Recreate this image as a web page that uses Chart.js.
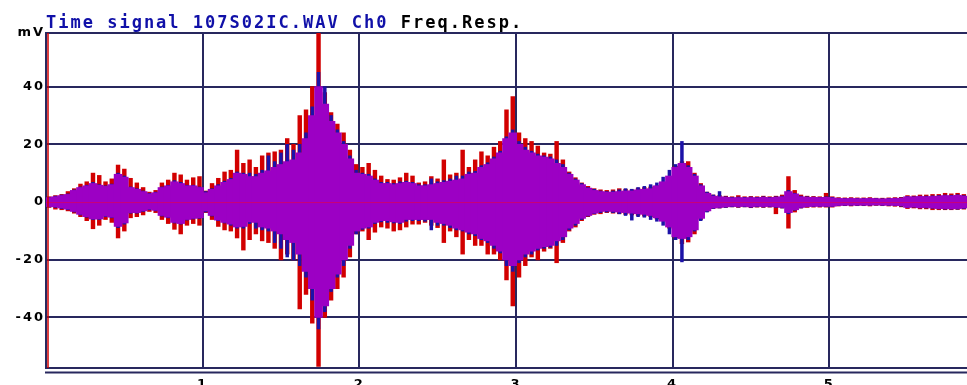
<!DOCTYPE html>
<html>
<head>
<meta charset="utf-8">
<title>Time signal 107S02IC.WAV Ch0</title>
<script src="https://cdn.jsdelivr.net/npm/chart.js@4.4.1/dist/chart.umd.min.js"></script>
<style>
  html, body { margin: 0; padding: 0; background: #ffffff; }
  #wrap { position: relative; width: 967px; height: 385px; overflow: hidden; }
  #c { position: absolute; left: 0; top: 0; }
  #title {
    position: absolute; left: 46px; top: 14px;
    font: bold 17px/17px "DejaVu Sans Mono", monospace;
    letter-spacing: 2px; color: #000000; white-space: pre;
  }
  #title .src { color: #1010a8; }
</style>
</head>
<body>
<div id="wrap">
  <canvas id="c" width="967" height="385"></canvas>
  <div id="title"><span class="src">Time signal 107S02IC.WAV Ch0</span> Freq.Resp.</div>
</div>
<script>
// Peak envelope of the recording, one column per 40 ms (values in mV).
const SAMPLE_STEP = 0.04;

// Channel trace drawn in red: column maxima / minima
const redHigh = [
  1.8,2.2,2.6,3.6,4.6,6.2,7.0,10.0,9.2,7.0,
  8.0,12.8,11.4,8.2,6.6,5.0,3.4,4.0,6.6,7.6,
  10.0,9.4,7.6,8.4,8.8,3.8,6.4,8.2,10.4,11.0,
  18.0,13.4,14.6,12.0,16.0,17.0,17.4,18.0,22.0,20.0,
  30.0,32.0,40.0,62.0,38.0,31.0,27.0,24.0,18.0,13.0,
  12.0,13.4,11.0,9.0,7.8,7.6,8.4,10.0,9.0,6.6,
  7.0,8.8,8.0,14.6,9.4,10.0,18.0,12.0,14.6,17.4,
  16.0,19.0,21.0,32.0,36.6,24.0,22.0,21.0,19.4,17.0,
  16.6,21.0,14.6,10.4,8.4,6.6,5.4,4.6,4.2,4.0,
  4.2,4.6,4.4,4.2,4.8,5.0,5.2,5.6,6.8,8.4,
  12.4,14.0,14.0,10.0,6.4,3.4,2.4,2.2,2.0,1.8,
  2.2,1.8,1.9,1.8,2.0,1.8,2.0,2.4,8.8,4.0,
  2.4,2.0,1.9,1.8,3.0,1.8,1.5,1.4,1.5,1.4,
  1.4,1.5,1.3,1.3,1.4,1.5,1.6,2.2,2.1,2.4,
  2.4,2.6,2.6,3.0,2.8,3.0,2.6
];
const redLow = [
  -1.8,-2.4,-2.6,-3.0,-3.8,-5.0,-6.4,-9.2,-8.0,-6.0,
  -7.0,-12.4,-10.0,-5.4,-5.0,-4.4,-3.2,-3.6,-6.0,-7.4,
  -9.4,-11.0,-8.0,-7.4,-8.0,-3.6,-6.0,-8.4,-9.6,-10.0,
  -12.4,-16.6,-13.0,-11.0,-13.4,-14.0,-16.0,-20.0,-18.0,-20.0,
  -37.0,-32.0,-42.0,-57.0,-40.0,-34.0,-30.0,-26.0,-19.0,-11.0,
  -10.0,-13.0,-10.4,-8.6,-9.0,-10.0,-9.6,-8.6,-7.6,-7.6,
  -7.0,-8.0,-8.8,-14.0,-10.0,-12.0,-18.0,-13.0,-15.0,-15.0,
  -18.0,-18.0,-20.0,-27.0,-36.0,-26.0,-22.0,-19.0,-20.0,-17.0,
  -16.0,-21.0,-14.0,-10.0,-8.6,-6.4,-5.0,-4.2,-4.0,-3.6,
  -3.8,-4.0,-4.2,-4.4,-4.6,-4.8,-5.0,-5.8,-6.4,-9.0,
  -12.4,-14.4,-13.8,-11.0,-6.0,-3.2,-2.2,-2.0,-1.8,-1.6,
  -1.8,-1.6,-1.9,-1.7,-1.8,-1.7,-4.0,-2.0,-9.0,-3.4,
  -2.0,-1.8,-1.7,-1.7,-1.7,-1.7,-1.3,-1.2,-1.3,-1.2,
  -1.2,-1.3,-1.1,-1.2,-1.3,-1.4,-1.6,-2.2,-2.0,-2.3,
  -2.3,-2.6,-2.6,-2.6,-2.6,-2.5,-2.4
];

// Second trace drawn in blue
const blueHigh = [
  1.6,2.0,2.4,2.8,4.2,5.2,5.8,6.8,6.0,5.6,
  6.2,10.0,9.0,5.2,4.6,3.8,3.0,3.4,5.2,5.8,
  7.4,6.8,5.8,5.8,5.2,3.6,4.6,6.0,7.2,8.2,
  10.4,10.0,10.0,9.6,11.0,16.0,14.0,17.0,20.0,18.0,
  20.0,24.0,33.0,45.0,40.0,30.0,25.0,21.0,16.0,11.0,
  10.0,9.6,8.0,6.8,6.8,6.4,7.0,7.2,6.8,6.0,
  6.0,8.0,7.0,7.4,8.0,9.0,9.0,10.4,10.6,12.6,
  13.6,15.6,17.6,22.6,25.0,21.0,19.0,17.6,16.6,16.0,
  15.6,14.6,13.0,10.0,8.0,6.4,5.0,4.4,3.8,3.6,
  3.8,4.2,4.6,4.4,5.0,5.4,6.0,6.6,8.6,11.0,
  13.0,21.0,12.6,9.6,6.0,3.4,2.4,3.6,1.8,1.6,
  1.7,1.6,1.7,1.6,1.8,1.6,1.8,2.0,4.0,3.0,
  2.0,1.8,1.7,1.6,1.8,1.6,1.3,1.2,1.3,1.2,
  1.2,1.3,1.2,1.1,1.2,1.3,1.4,1.9,1.8,2.0,
  2.0,2.1,2.2,2.4,2.3,2.5,2.2
];
const blueLow = [
  -1.6,-1.8,-2.2,-2.6,-3.4,-4.4,-5.2,-6.0,-6.0,-5.0,
  -5.4,-8.8,-7.6,-3.8,-3.8,-3.2,-2.6,-3.0,-4.8,-5.4,
  -7.2,-7.6,-6.2,-5.8,-5.6,-3.4,-4.8,-6.4,-7.2,-8.0,
  -9.0,-9.0,-7.4,-9.0,-9.6,-10.0,-14.0,-16.0,-19.0,-20.0,
  -22.0,-26.0,-34.0,-44.0,-38.0,-31.0,-26.0,-22.0,-16.0,-11.0,
  -9.4,-9.0,-7.4,-6.8,-7.0,-7.2,-7.4,-6.6,-6.4,-6.4,
  -6.6,-9.6,-8.0,-8.0,-8.8,-9.6,-10.0,-11.0,-11.6,-13.0,
  -14.0,-16.0,-17.6,-22.0,-24.0,-21.0,-19.0,-18.0,-16.6,-16.0,
  -15.6,-15.0,-13.0,-9.6,-8.0,-6.0,-4.8,-4.0,-3.6,-3.4,
  -3.6,-4.0,-4.6,-6.2,-5.0,-5.2,-6.0,-6.6,-8.0,-11.0,
  -13.0,-20.7,-13.0,-10.0,-6.4,-3.4,-2.2,-2.0,-1.8,-1.6,
  -1.7,-1.6,-1.8,-1.6,-1.7,-1.6,-1.8,-2.0,-4.0,-2.8,
  -2.0,-1.6,-1.5,-1.5,-1.5,-1.5,-1.2,-1.1,-1.1,-1.1,
  -1.1,-1.1,-1.0,-1.1,-1.1,-1.2,-1.4,-1.9,-1.7,-2.0,
  -2.0,-2.1,-2.3,-2.4,-2.4,-2.4,-2.2
];

// Common part of both traces, drawn in purple on top
const purpleHigh = [
  1.5,1.8,2.2,2.6,4.0,5.0,5.6,6.4,5.8,5.4,
  6.0,9.6,8.6,5.0,4.4,3.6,2.8,3.2,5.0,5.6,
  7.0,6.4,5.6,5.6,5.0,3.2,4.4,5.6,6.8,7.8,
  10.0,9.6,8.8,8.8,10.0,10.8,12.0,13.0,14.0,14.6,
  17.0,22.0,30.0,40.0,34.0,28.0,24.0,20.0,15.0,10.0,
  9.6,9.0,7.6,6.4,6.4,6.0,6.4,6.8,6.4,5.6,
  5.6,6.0,6.4,6.8,7.2,7.6,8.0,9.6,10.0,12.0,
  13.0,15.0,17.0,22.0,24.0,20.0,18.0,17.0,16.0,15.6,
  15.0,13.4,12.0,9.6,7.6,6.0,4.8,4.0,3.6,3.4,
  3.4,3.6,3.8,3.8,4.2,4.4,4.6,5.6,7.0,9.0,
  12.0,13.4,12.0,9.0,5.6,3.0,2.0,1.8,1.6,1.4,
  1.5,1.4,1.5,1.4,1.6,1.4,1.6,1.8,3.6,2.8,
  1.8,1.6,1.6,1.5,1.6,1.4,1.2,1.1,1.2,1.1,
  1.1,1.2,1.1,1.0,1.1,1.2,1.3,1.8,1.7,1.9,
  1.8,1.9,2.0,2.2,2.1,2.3,2.0
];
const purpleLow = [
  -1.5,-1.6,-2.0,-2.4,-3.2,-4.2,-5.0,-5.8,-5.8,-4.8,
  -5.2,-8.4,-7.2,-3.6,-3.6,-3.0,-2.4,-2.8,-4.6,-5.2,
  -7.0,-7.4,-6.0,-5.6,-5.4,-3.0,-4.6,-6.2,-7.0,-7.6,
  -8.6,-8.4,-6.8,-7.0,-8.6,-9.0,-10.0,-11.0,-13.0,-14.0,
  -18.0,-24.0,-30.0,-40.0,-36.0,-30.0,-25.0,-20.0,-15.0,-10.0,
  -9.0,-8.6,-7.0,-6.4,-6.4,-6.8,-7.0,-6.0,-6.0,-6.0,
  -6.0,-6.0,-7.0,-7.4,-8.0,-9.0,-9.6,-10.4,-11.0,-12.6,
  -13.4,-15.0,-17.0,-20.0,-22.0,-20.0,-18.0,-17.0,-16.0,-15.4,
  -15.0,-13.4,-12.0,-9.0,-7.4,-5.6,-4.6,-3.8,-3.2,-3.0,
  -3.2,-3.4,-3.6,-3.8,-4.0,-4.2,-4.6,-5.4,-6.6,-8.6,
  -12.0,-12.6,-12.0,-9.6,-5.6,-3.0,-2.0,-1.8,-1.6,-1.4,
  -1.5,-1.4,-1.6,-1.4,-1.5,-1.4,-1.6,-1.8,-3.6,-2.6,
  -1.8,-1.5,-1.4,-1.4,-1.4,-1.4,-1.1,-1.0,-1.0,-1.0,
  -1.0,-1.0,-0.9,-1.0,-1.0,-1.1,-1.2,-1.8,-1.6,-1.9,
  -1.8,-2.0,-2.2,-2.2,-2.3,-2.2,-2.0
];

// Axis ticks
const timeTicks = [1, 2, 3, 4, 5];
const levelTicks = [-40, -20, 0, 20, 40];
const TIME_MAX = 5.88;
const LEVEL_MIN = -57.6;
const LEVEL_MAX = 58.7;
const UNIT_LABEL = 'mV';

// Column centre times
const times = purpleHigh.map((_, i) => +(SAMPLE_STEP / 2 + i * SAMPLE_STEP).toFixed(3));
const columns = (lo, hi) => times.map((t, i) => ({ x: t, y: [lo[i], hi[i]] }));

const NAVY = '#28285e';
const RED = '#d20000';
const BLUE = '#1c12a8';
const PURPLE = '#9c00c4';
const TICK_FONT = { family: '"DejaVu Sans", sans-serif', size: 13, weight: 'bold' };
const TICK_SPACING = '2px';

// Wide spacing for the axis lettering
const spacingPlugin = {
  id: 'spacing',
  beforeUpdate(chart) { chart.ctx.letterSpacing = TICK_SPACING; },
  beforeDraw(chart) { chart.ctx.letterSpacing = TICK_SPACING; }
};

// Frame details: second bottom rule, start marker and zero line
const framePlugin = {
  id: 'frame',
  afterDatasetsDraw(chart) {
    const { ctx, chartArea: a, scales } = chart;
    const y0 = scales.y.getPixelForValue(0);
    const x0 = scales.x.getPixelForValue(0);
    ctx.save();
    ctx.strokeStyle = 'rgba(222,0,90,0.75)';
    ctx.lineWidth = 1;
    ctx.beginPath();
    ctx.moveTo(a.left, y0 + 0.5);
    ctx.lineTo(a.right, y0 + 0.5);
    ctx.stroke();
    ctx.strokeStyle = RED;
    ctx.lineWidth = 1.5;
    ctx.beginPath();
    ctx.moveTo(x0 + 2, a.top);
    ctx.lineTo(x0 + 2, a.bottom);
    ctx.stroke();
    ctx.restore();
  },
  afterDraw(chart) {
    const { ctx, chartArea: a } = chart;
    ctx.save();
    ctx.strokeStyle = NAVY;
    ctx.lineWidth = 2;
    ctx.beginPath();
    ctx.moveTo(a.left - 1, a.bottom + 4.5);
    ctx.lineTo(a.right, a.bottom + 4.5);
    ctx.stroke();
    ctx.restore();
  }
};

const barStyle = (color, width, order) => ({
  backgroundColor: color,
  borderWidth: 0,
  inflateAmount: 0.5,
  barPercentage: width,
  categoryPercentage: 1,
  grouped: false,
  order
});

new Chart(document.getElementById('c'), {
  type: 'bar',
  data: {
    datasets: [
      { label: 'Ch0', data: columns(redLow, redHigh), ...barStyle(RED, 0.55, 3) },
      { label: 'Ch0 ref', data: columns(blueLow, blueHigh), ...barStyle(BLUE, 0.4, 2) },
      { label: 'Freq.Resp.', data: columns(purpleLow, purpleHigh), ...barStyle(PURPLE, 1.2, 1) }
    ]
  },
  options: {
    responsive: false,
    animation: false,
    layout: { padding: { top: 33, left: 0, right: 0, bottom: 0 } },
    plugins: { legend: { display: false }, tooltip: { enabled: false } },
    scales: {
      x: {
        type: 'linear',
        min: 0,
        max: TIME_MAX,
        offset: false,
        afterBuildTicks: s => { s.ticks = timeTicks.map(v => ({ value: v })); },
        afterFit: s => { s.height = 17; },
        grid: { color: NAVY, lineWidth: 2, drawTicks: false, offset: false },
        border: { display: true, color: NAVY, width: 2 },
        ticks: { color: '#000', font: TICK_FONT, padding: 9, maxRotation: 0, autoSkip: false }
      },
      y: {
        min: LEVEL_MIN,
        max: LEVEL_MAX,
        afterBuildTicks: s => { s.ticks = levelTicks.concat([LEVEL_MAX]).map(v => ({ value: v })); },
        afterFit: s => { s.width = 46; },
        grid: { color: NAVY, lineWidth: 2, drawTicks: false },
        border: { display: true, color: NAVY, width: 2 },
        ticks: {
          color: '#000', font: TICK_FONT, padding: 1, autoSkip: false,
          callback: v => (v === LEVEL_MAX ? UNIT_LABEL : v)
        }
      }
    }
  },
  plugins: [spacingPlugin, framePlugin]
});
</script>
</body>
</html>
